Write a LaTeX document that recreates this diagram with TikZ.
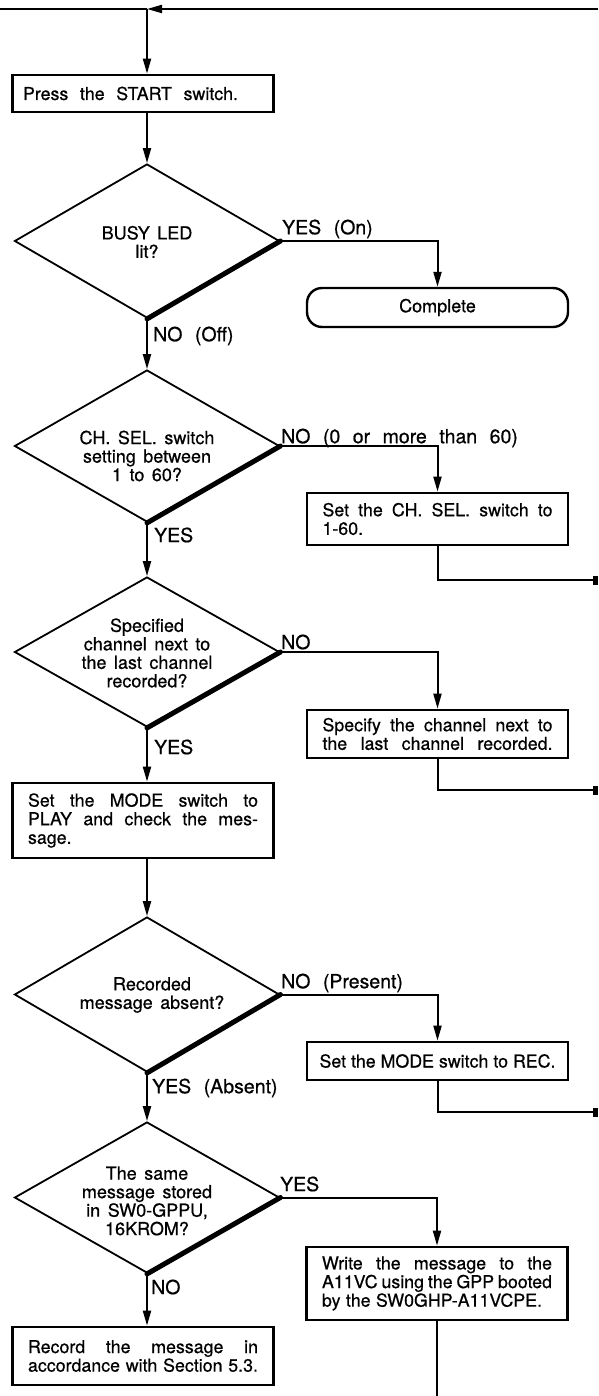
\documentclass[tikz,border=0pt]{standalone}
\usepackage{fontspec}
\setmainfont{TeX Gyre Heros}[FakeBold=0.6]
\usetikzlibrary{arrows.meta,shapes.geometric}
% one fully justified line of box text (spaces may stretch)
\newcommand\jl[2][230pt]{{\spaceskip=0pt\xspaceskip=0pt\makebox[#1][s]{#2}}}
% wide interword spaces for decision texts and branch labels
\newcommand\dmdspacing{\spaceskip=7.5pt plus 2pt\relax}
\newcommand\lblspacing{\spaceskip=12.5pt plus 2pt\relax}

\begin{document}
\begin{tikzpicture}[x=1pt,y=-1pt,
  wire/.style={line width=2pt},
  arr/.style={line width=2pt,-{Triangle[length=15pt,width=8pt]}},
  exitline/.style={line width=2pt,-{Rectangle[length=5pt,width=9pt]}},
  frame/.style={draw,line width=2.7pt,minimum width=261pt,inner xsep=10pt,inner ysep=0pt,
    font=\fontsize{17.8}{18.6}\selectfont},
  tbox/.style={frame,inner xsep=15.5pt,text width=230pt,align=left},
  term/.style={draw,line width=2.4pt,rounded corners=15pt,minimum width=261pt,
    minimum height=39pt,font=\fontsize{18}{20}\selectfont},
  dmd/.style={draw,diamond,line width=1.8pt,minimum width=265pt,inner sep=0pt},
  dshade/.style={line width=5pt,line cap=round},
  dtext/.style={align=center,inner sep=0pt,
    font=\fontsize{18}{18.5}\selectfont\dmdspacing},
  lbl/.style={anchor=west,inner sep=0pt,
    font=\fontsize{19.5}{21}\selectfont\lblspacing}]

\fill[white] (0,0) rectangle (598,1396);
\useasboundingbox (0,0) rectangle (598,1396);

% ---- process boxes, terminal and decisions
\node[frame,minimum height=37pt] (start) at (143,93.5)
  {\makebox[240pt][l]{\jl[215pt]{Press the START switch.}}};

\node[dmd,minimum height=154pt] (d1) at (147,241) {};
\node[dtext] (d1t) at (147,242) {BUSY LED\\lit?};
\node[term] (done) at (437.5,307.5) {Complete};

\node[dmd,minimum height=152pt] (d2) at (147,446) {};
\node[dtext] (d2t) at (147,456) {CH. SEL. switch\\setting between\\1 to 60?};
\node[tbox,minimum height=52pt] (chsel) at (437.5,519)
  {\jl{Set the CH. SEL. switch to}\\1-60.};

\node[dmd,minimum height=150pt] (d3) at (147,652) {};
\node[dtext] (d3t) at (147,653) {Specified\\channel next to\\the last channel\\recorded?};
\node[tbox,minimum height=48pt] (spec) at (437.5,734)
  {\jl{Specify the channel next to}\\\jl{the last channel recorded.}};

\node[tbox,minimum height=75pt] (play) at (143,820.5)
  {\jl{Set the MODE switch to}\\\jl{PLAY and check the mes-}\\sage.};

\node[dmd,minimum height=155pt] (d4) at (147,994.5) {};
\node[dtext] (d4t) at (152,995) {Recorded\\message absent?};
\node[frame,minimum height=38pt] (rec) at (437.5,1061) {Set the MODE switch to REC.};

\node[dmd,minimum height=151pt] (d5) at (147,1197.5) {};
\node[dtext] (d5t) at (147,1201) {The same\\message stored\\in SW0-GPPU,\\16KROM?};
\node[tbox,minimum height=73pt] (write) at (437,1283.5)
  {\jl{Write the message to the}\\\jl{A11VC using the GPP booted}\\\jl[220pt]{by the SW0GHP-A11VCPE.}};

\node[tbox,minimum height=58pt] (record) at (143,1356)
  {\jl{Record the message in}\\\jl{accordance with Section 5.3.}};

% heavy lower-right edge of each decision
\foreach \d in {d1,d2,d3,d4,d5}
  \draw[dshade] (\d.east) -- (\d.south);

% ---- loop return along the top
\coordinate (topL) at (0,9);
\coordinate (topR) at (598,9);
\coordinate (join) at (147,9);
\draw[arr] (topR) -- (join);
\draw[wire] (join) -- (topL);
\draw[arr] (join) -- (join |- start.north);

% ---- main column
\draw[arr] (d1.north |- start.south) -- (d1.north);
\draw[arr] (d1.south) -- (d2.north);
\draw[arr] (d2.south) -- (d3.north);
\draw[arr] (d3.south) -- (d3.south |- play.north);
\draw[arr] (d4.north |- play.south) -- (d4.north);
\draw[arr] (d4.south) -- (d5.north);
\draw[arr] (d5.south) -- (d5.south |- record.north);

% ---- side branches
\draw[arr] (d1.east) -| (done.north);
\draw[arr] (d2.east) -| (chsel.north);
\draw[arr] (d3.east) -| (spec.north);
\draw[arr] (d4.east) -| (rec.north);
\draw[arr] (d5.east) -| (write.north);

% ---- exits to the right margin
\coordinate (x1) at (598,580);
\coordinate (x2) at (598,790);
\coordinate (x3) at (598,1112);
\coordinate (x4) at (437,1396);
\draw[exitline] (chsel.south) |- (x1);
\draw[exitline] (spec.south) |- (x2);
\draw[exitline] (rec.south) |- (x3);
\draw[wire] (write.south) -- (x4);

% ---- branch labels
\node[lbl] (l1) at (282,229) {YES (On)};
\node[lbl] (l2) at (153,336) {NO (Off)};
\node[lbl] (l3) at (281,438) {NO (0 or more than 60)};
\node[lbl] (l4) at (154,535) {YES};
\node[lbl] (l5) at (281,642) {NO};
\node[lbl] (l6) at (154,747) {YES};
\node[lbl] (l7) at (281,983) {NO (Present)};
\node[lbl] (l8) at (152,1088) {YES (Absent)};
\node[lbl] (l9) at (280,1184) {YES};
\node[lbl] (l10) at (151,1287) {NO};
\end{tikzpicture}
\end{document}
